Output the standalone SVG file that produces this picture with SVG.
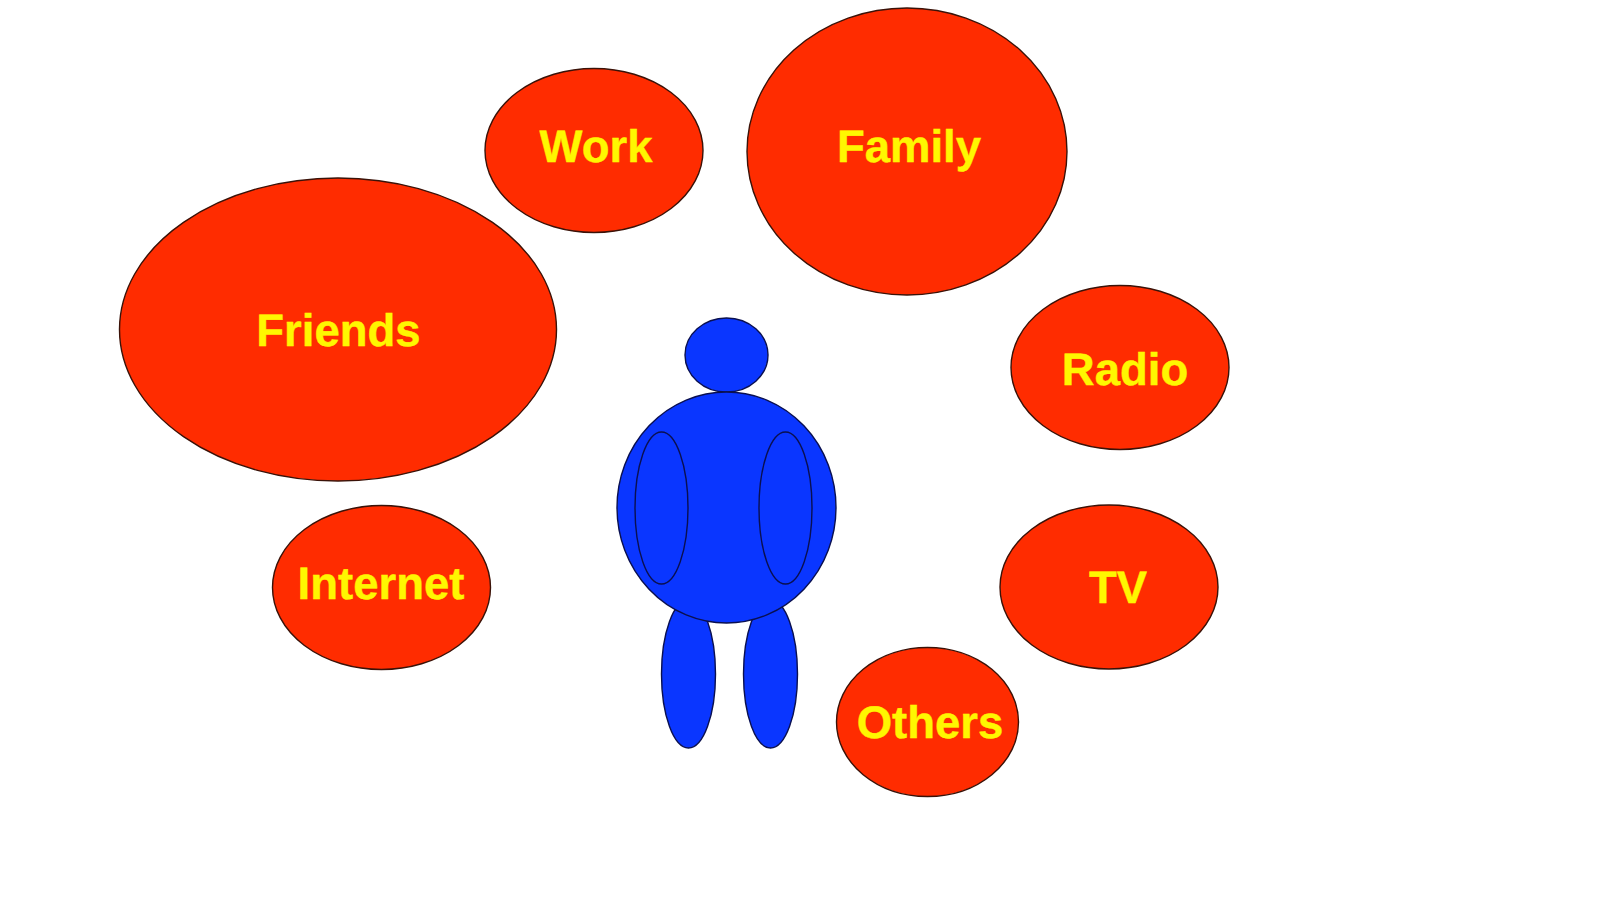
<svg xmlns="http://www.w3.org/2000/svg" width="1600" height="900" viewBox="0 0 1600 900">
<style>
.r{fill:#ff2c00;stroke:#3a1208;stroke-width:1.4}
.b{fill:#0a36ff;stroke:#0a1050;stroke-width:1.4}
.n{fill:none;stroke:#0a1050;stroke-width:1.4}
text{font-family:"Liberation Sans",Arial,sans-serif;font-weight:700;font-size:45.5px;fill:#fff700;stroke:#fff700;stroke-width:.4;text-anchor:middle;text-rendering:geometricPrecision}
</style>
<rect width="1600" height="900" fill="#fff"/>
<g id="figure">
<ellipse class="b" cx="688.500" cy="674" rx="27" ry="74"/>
<ellipse class="b" cx="770.500" cy="674" rx="27" ry="74"/>
<ellipse class="b" cx="726.500" cy="355" rx="41.500" ry="37"/>
<ellipse class="b" cx="726.500" cy="507.500" rx="109.500" ry="115.500"/>
<ellipse class="n" cx="661.500" cy="508" rx="26.500" ry="76"/>
<ellipse class="n" cx="785.500" cy="508" rx="26.500" ry="76"/>
</g>
<g id="work"><ellipse class="r" cx="594" cy="150.500" rx="109" ry="82"/><text x="596" y="161.500">Work</text></g>
<g id="family"><ellipse class="r" cx="907" cy="151.500" rx="160" ry="143.500"/><text x="909" y="161.500">Family</text></g>
<g id="friends"><ellipse class="r" cx="338" cy="329.500" rx="218.500" ry="151.500"/><text x="338.500" y="345.500">Friends</text></g>
<g id="radio"><ellipse class="r" cx="1120" cy="367.500" rx="109" ry="82"/><text x="1125" y="384.500">Radio</text></g>
<g id="internet"><ellipse class="r" cx="381.500" cy="587.500" rx="109" ry="82"/><text x="381" y="598.500">Internet</text></g>
<g id="tv"><ellipse class="r" cx="1109" cy="587" rx="109" ry="82"/><text x="1118" y="602.500">TV</text></g>
<g id="others"><ellipse class="r" cx="927.500" cy="722" rx="91" ry="74.500"/><text x="930" y="737.500">Others</text></g>
<g id="connectors"/>
</svg>
